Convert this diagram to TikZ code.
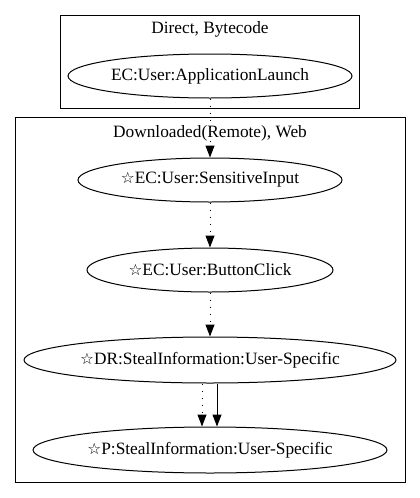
\documentclass[tikz,border=0pt]{standalone}
\usepackage{fontspec}
\setmainfont{Liberation Serif}
\newfontfamily\symfont{DejaVu Sans}
\usetikzlibrary{shapes.geometric,arrows.meta}
\newcommand{\wstar}{{\symfont\fontsize{15.5}{17}\selectfont ☆}}
\tikzset{
  ev/.style={draw, ellipse, inner sep=0pt, line width=1pt, font=\fontsize{17.3}{20}\selectfont},
  cluster/.style={draw, line width=1pt},
  clabel/.style={font=\fontsize{17.3}{20}\selectfont, inner sep=0pt},
  edge/.style={line width=1pt, -{Triangle[length=12pt,width=9pt]}},
  dotedge/.style={edge, dash pattern=on 1.2pt off 5.8pt},
}
\begin{document}
\begin{tikzpicture}[x=1pt,y=-1pt]
\useasboundingbox (0,0) rectangle (420,498);
\fill[white] (0,0) rectangle (420,498);
% clusters
\draw[cluster] (60,15) rectangle (359,108);
\node[clabel] (l1) at (210,29) {Direct, Bytecode};
\draw[cluster] (15,117) rectangle (405,482);
\node[clabel] (l2) at (210,133) {Downloaded(Remote), Web};
% nodes
\node[ev, minimum width=284pt, minimum height=44pt] (a) at (210,76) {EC:User:ApplicationLaunch};
\node[ev, minimum width=264pt, minimum height=44pt] (b) at (210,180) {\wstar EC:User:SensitiveInput};
\node[ev, minimum width=246pt, minimum height=44pt] (c) at (210,270) {\wstar EC:User:ButtonClick};
\node[ev, minimum width=372pt, minimum height=46pt] (d) at (210,360) {\wstar DR:StealInformation:User-Specific};
\node[ev, minimum width=354pt, minimum height=46pt] (e) at (210,450) {\wstar P:StealInformation:User-Specific};
% edges
\draw[dotedge] (a) -- (b);
\draw[dotedge] (b) -- (c);
\draw[dotedge] (c) -- (d);
\draw[dotedge] (d.south -| 202,0) -- (e.north -| 202,0);
\draw[edge] (d.south -| 217,0) -- (e.north -| 217,0);
\end{tikzpicture}
\end{document}
